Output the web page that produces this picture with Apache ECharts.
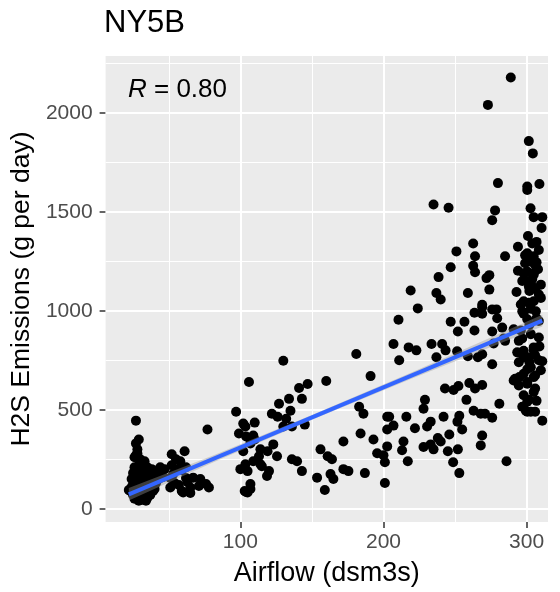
<!DOCTYPE html>
<html><head><meta charset="utf-8">
<script src="https://cdn.jsdelivr.net/npm/echarts@6/dist/echarts.min.js"></script>
<style>html,body{margin:0;padding:0;background:#fff}#c{width:560px;height:592px}</style>
</head><body><div id="c"></div>
<script>
// Airflow (dsm3s) values
const airflow = [
 27,27,28,28,26,30,33,29,35,38, 42,40,45,30,25,27,31,34,37,26, 28,32,24,29,35,23,27,31,33,25, 28,30,35,26,32,29,36,40,43,38, 24,22,25,30,35,33,31,44,41,39, 37,34,28,26,29,27,31,45,47,46,
 52,61,58,52,56,53,59,62,51,54, 62,51,60,65,65,59,67,72,76,78, 71,77,55,57,63,
 97,102,99,104,100,105,106,130,181,191, 160,147,141,143,134,127,135,122,126,132, 130,136,145,183,186,110,103.5,109,107,110, 102,109,115,113,123,114,125.6,119,103.5,114, 120,118.6,107,104,136,139.6,143,156,161,164, 153.6,163,165,159,172,172,175.5,187,184,193, 195.6,200,201,202.6,202.6,202.6,201,105,103,107,
 207,211,217.6,223,233.6,241,243.4,237,251.5,252, 263.6,276,259,266,269,276,277,284,243,249, 252.4,260,264,269,258,229,228,281,263,268, 271,276,204,216,207,222,233,230.5,242,253, 251.7,255,246,269,268,238,240,233,228,235, 214,213,245,252,217,248.7,253,286,
 280,235,245.5,278,276,251,262.7,264,285,247, 262.7,264,238.5,272,274,219,237,240,259,274, 293,224,210.5,269,263.6,269,276,279,279.5,247, 256.6,283,289,273,301.6,304.4,
 300.5,300.5,309,302.8,305,311,310.5,301,307,294, 304,308.6,300.5,305,303,306,299,294,300.5,305, 307,298,305,304,310,300.5,308.6,298,305,310, 269,297,306.5,300.5,308.6,291,285,294.6,303,308.6, 305,298,293.5,300.5,306,294.6,311,303,298,306, 291,300.5,294.6,298,305,307,300.5,297,303,306, 299.5,311,298,305,308.6,300.5,292,295,305,300.5, 306,301.6,300.5,301.6,296,301.6,298,307,302,297, 308,303,296,309,302,297,310,304,299,306, 302
];
// H2S Emissions (g per day) values
const emissions = [
 445,330,300,280,260,250,240,220,210,200, 190,175,170,190,180,160,150,140,130,130, 120,110,110,100,95,90,85,80,75,70, 65,60,55,50,45,40,120,100,150,160, 150,95,120,170,180,200,230,210,130,90, 70,40,55,210,350,270,165,190,200,160,
 275,290,240,220,200,175,195,210,155,130, 155,107,82,80,107,90,157,150,125,107, 115,400,250,120,135,
 490,430,380,365,200,82,640,748,782,670, 645,630,610,555,555,530,495,480,465,455, 415,415,425,515,480,435,415,370,330,350, 290,240,215,265,325,300,265,290,225,225, 190,165,100,85,250,240,190,300,265,250, 157,175,150,95,340,200,190,180,380,350, 280,270,130,465,400,315,235,190,90,125,
 832,750,815,800,832,832,800,765,795,895, 900,895,770,765,780,730,835,860,607,600, 620,635,607,625,550,550,505,530,495,480, 480,460,465,465,420,407,440,415,465,470, 440,400,375,370,320,357,340,325,312,300, 340,295,290,300,240,235,180,240,
 1645,1537,1520,1507,1457,1300,1340,1275,1275,1220, 1227,1195,1170,1165,1180,1102,1090,1057,1090,1107, 1095,1012,955,1030,990,985,1007,1007,962,945, 945,915,2178,2040,1857,1795,
 1628,1610,1640,1518,1473,1473,1418,1378,1348,1323, 1340,1307,1290,1275,1248,1232,1240,1202,1198,1190, 1245,1190,1182,1123,1132,1150,1082,1048,1048,1065, 1018,998,998,957,948,907,848,848,882,865, 815,798,790,765,775,740,745,715,682,673, 648,640,623,573,590,545,540,515,490,490, 495,445,765,800,750,705,657,665,665,632, 607,550,490,1123,1032,1040,985,962,1100,1150, 1210,1010,900,820,740,860,700,1160,1280,1110, 930
];
const xTicks = [100, 200, 300];
const yTicks = [0, 500, 1000, 1500, 2000];
const xMinor = [50, 150, 250];
const yMinor = [250, 750, 1250, 1750, 2250];
// fitted line and its confidence band
const fitX = [22, 311];
const fitY = [73, 950];
const bandX = [22, 80, 150, 220, 311];
const bandLow = [41, 231, 450, 658, 920];
const bandHigh = [105, 267, 474, 690, 980];
const titleText = 'NY5B';
const rValue = '0.80';

const FONT = '"Liberation Sans", Arial, sans-serif';
const chart = echarts.init(document.getElementById('c'), null, {renderer: 'canvas'});
const points = airflow.map((x, i) => [x, emissions[i]]);
const gridLines = [
  ...xMinor.map(v => ({xAxis: v, lineStyle: {width: 1}})),
  ...yMinor.map(v => ({yAxis: v, lineStyle: {width: 1}})),
  ...xTicks.map(v => ({xAxis: v, lineStyle: {width: 2}})),
  ...yTicks.map(v => ({yAxis: v, lineStyle: {width: 2}}))
];
const option = {
  animation: false,
  title: [
    {text: titleText, left: 104, top: 8, padding: 0,
     textStyle: {fontFamily: FONT, fontSize: 31, fontWeight: 'normal', color: '#000'}},
    {text: '{i|R}{n| = ' + rValue + '}', left: 128, top: 77, padding: 0,
     textStyle: {fontWeight: 'normal', rich: {
       i: {fontFamily: FONT, fontSize: 26, fontStyle: 'italic', fontWeight: 'normal', color: '#000'},
       n: {fontFamily: FONT, fontSize: 26, fontWeight: 'normal', color: '#000'}
     }}}
  ],
  grid: {left: 105, top: 56, width: 443, height: 471, show: true, backgroundColor: '#EBEBEB', borderWidth: 0},
  xAxis: {
    type: 'value', min: 5.8, max: 315,
    name: 'Airflow (dsm3s)', nameLocation: 'middle', nameGap: 38,
    nameTextStyle: {fontFamily: FONT, fontSize: 27, color: '#000'},
    axisLine: {show: false, onZero: false},
    axisTick: {show: true, customValues: xTicks, length: 6, lineStyle: {color: '#333', width: 1.5}},
    axisLabel: {customValues: xTicks, margin: 10, fontFamily: FONT, fontSize: 21, color: '#4D4D4D',
                formatter: v => String(v)},
    splitLine: {show: false}
  },
  yAxis: {
    type: 'value', min: -67, max: 2287,
    name: 'H2S Emissions (g per day)', nameLocation: 'middle', nameGap: 62,
    nameTextStyle: {fontFamily: FONT, fontSize: 26.5, color: '#000'},
    axisLine: {show: false, onZero: false},
    axisTick: {show: true, customValues: yTicks, length: 6, lineStyle: {color: '#333', width: 1.5}},
    axisLabel: {customValues: yTicks, margin: 13, fontFamily: FONT, fontSize: 21, color: '#4D4D4D',
                formatter: v => String(v)},
    splitLine: {show: false}
  },
  series: [
    {
      type: 'scatter', data: points, symbolSize: 10, z: 2,
      itemStyle: {color: '#000', opacity: 1},
      markLine: {
        z: 1, silent: true, symbol: ['none', 'none'], label: {show: false},
        lineStyle: {color: '#FFFFFF', type: 'solid'}, emphasis: {disabled: true},
        data: gridLines
      }
    },
    {
      type: 'custom', coordinateSystem: 'cartesian2d', data: [[bandX[0], bandLow[0]]], z: 3, silent: true,
      renderItem: function (params, api) {
        const pts = [];
        for (let i = 0; i < bandX.length; i++) pts.push(api.coord([bandX[i], bandHigh[i]]));
        for (let i = bandX.length - 1; i >= 0; i--) pts.push(api.coord([bandX[i], bandLow[i]]));
        return {type: 'polygon', shape: {points: pts}, style: {fill: 'rgba(153,153,153,0.4)'}};
      }
    },
    {
      type: 'line', data: fitX.map((x, i) => [x, fitY[i]]), z: 4, silent: true,
      symbol: 'none', showSymbol: false, lineStyle: {color: '#3366FF', width: 4}
    }
  ]
};
chart.setOption(option);
</script></body></html>
